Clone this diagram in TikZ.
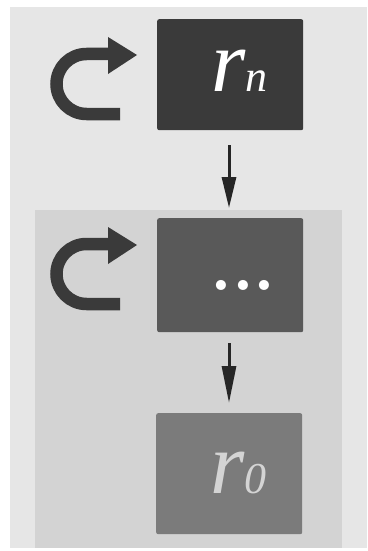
\documentclass[tikz,border=0pt]{standalone}
\usepackage{fontspec}
\newfontfamily\tnr{Liberation Serif}
\usetikzlibrary{arrows.meta}
\definecolor{outerbg}{HTML}{E6E6E6}
\definecolor{innerbg}{HTML}{D3D3D3}
\definecolor{boxA}{HTML}{3A3A3A}
\definecolor{boxB}{HTML}{595959}
\definecolor{boxC}{HTML}{7B7B7B}
\definecolor{loopcol}{HTML}{3A3A3A}
\definecolor{txtC}{HTML}{D4D4D4}
\begin{document}
\begin{tikzpicture}[x=1pt,y=-1pt,
  stagebox/.style={rounded corners=2pt, inner sep=0pt, minimum width=146pt, minimum height=#1, anchor=north west},
  flowarrow/.style={line width=3pt, black!85, -{Triangle[width=14pt,length=#1]}},
  loopstroke/.style={line width=12.5pt, loopcol, line cap=butt}
]
\useasboundingbox (0,0) rectangle (367,551);
\fill[white] (0,0) rectangle (367,551);
\fill[outerbg] (10,7) rectangle (367,548);
\fill[innerbg] (35,210) rectangle (342,548);

% boxes
\node[stagebox=111pt, fill=boxA] (rn) at (157,19) {};
\node[stagebox=114pt, fill=boxB] (dots) at (157,218) {};
\node[stagebox=121pt, fill=boxC] (r0) at (156,413) {};

% labels
\node[anchor=base west, inner sep=0pt, text=white] (rnl) at (211,92)
  {\fontsize{88}{88}\selectfont\tnr\itshape r\fontsize{44}{44}\selectfont n};
\node[anchor=base, inner sep=0pt, text=white] (dotsl) at (243,290)
  {\fontsize{70}{70}\selectfont\bfseries ...};
\node[anchor=base west, inner sep=0pt, text=txtC] (r0l) at (210,493)
  {\fontsize{88}{88}\selectfont\tnr\itshape r\fontsize{44}{44}\selectfont 0};

% connectors
\coordinate (a1s) at (229,145);
\coordinate (a1e) at (229,208);
\coordinate (a2s) at (229,343);
\coordinate (a2e) at (229,403);
\draw[flowarrow=31pt] (a1s) -- (a1e);
\draw[flowarrow=37pt] (a2s) -- (a2e);

% loop arrows
\foreach \cy in {84,274}{
  \draw[loopstroke] (120,\cy+30) -- (86.5,\cy+30)
    arc[start angle=90,end angle=270,radius=30] -- (109,\cy-30);
  \fill[loopcol] (108,\cy-47) -- (137,\cy-29) -- (108,\cy-10) -- cycle;
}
\end{tikzpicture}
\end{document}
